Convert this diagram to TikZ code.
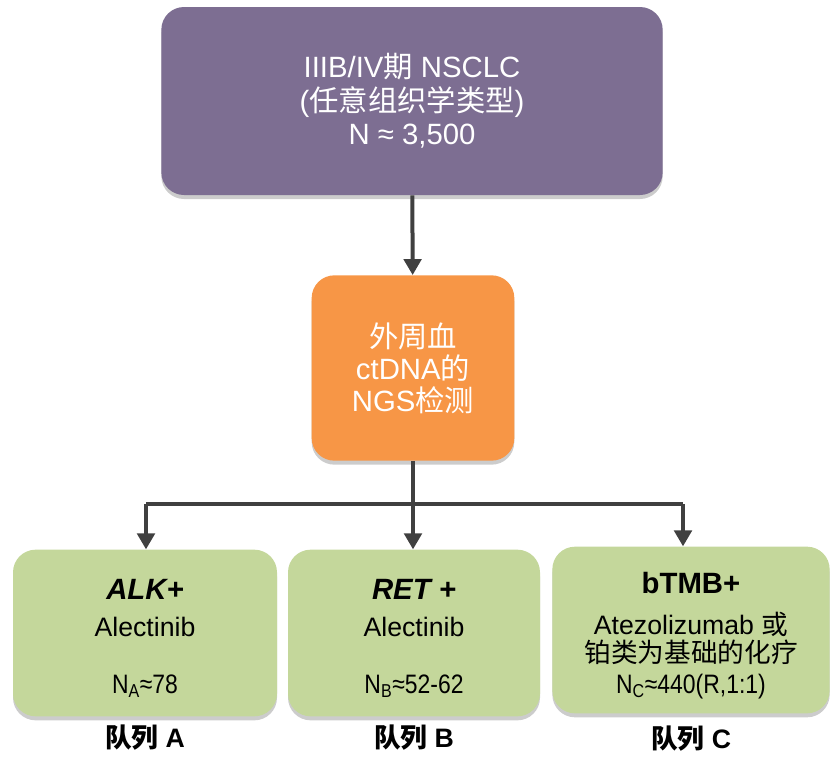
\documentclass[tikz,border=0pt]{standalone}
\usepackage{fontspec}
\setmainfont{Liberation Sans}
\newfontfamily\cjk{Noto Sans CJK SC}
\usetikzlibrary{arrows.meta, positioning, shadows}
\definecolor{stagecolor}{RGB}{125,110,146}
\definecolor{testcolor}{RGB}{247,150,70}
\definecolor{cohortcolor}{RGB}{196,215,155}
\definecolor{linkcolor}{RGB}{64,64,64}
\newcommand{\nline}[1]{\scalebox{0.86}[1]{#1}}

\begin{document}
\begin{tikzpicture}[
    x=0.75pt, y=-0.75pt,
    box/.style={rectangle, rounded corners=17pt, align=center, drop shadow={shadow xshift=0pt, shadow yshift=-3pt, fill=black, opacity=0.2}},
    stage/.style={box, fill=stagecolor, text=white, minimum width=376pt, minimum height=141pt, font=\fontsize{22}{25}\selectfont},
    test/.style={box, fill=testcolor, text=white, minimum width=152pt, minimum height=139pt, font=\fontsize{22}{24}\selectfont},
    cohort/.style={box, fill=cohortcolor, minimum height=125pt},
    cohorttext/.style={align=center, yshift=-4pt, font=\fontsize{20}{22}\selectfont},
    tag/.style={font=\bfseries\fontsize{20}{22}\selectfont},
    link/.style={draw=linkcolor, line width=3pt},
    arrow/.style={link, -{Triangle[length=12pt,width=13pt]}}
]
\useasboundingbox (0,0) rectangle (831,771);

\node[stage] (nsclc) at (412,101) {IIIB/IV{\cjk 期} NSCLC\\({\cjk 任意组织学类型})\\N ≈ 3,500};
\node[test] (ngs) at (413,368) {{\cjk 外周血}\\ctDNA{\cjk 的}\\NGS{\cjk 检测}};

% cohorts
\node[cohort, minimum width=198pt] (alk) at (145,633) {};
\node[cohort, minimum width=189pt] (ret) at (414,633) {};
\node[cohort, minimum width=208pt] (tmb) at (691,630) {};

\node[cohorttext] (alktext) at (alk) {{\bfseries\itshape\fontsize{22}{24}\selectfont ALK+}\\[6pt] Alectinib\\[21pt] \nline{N\textsubscript{A}≈78}};
\node[cohorttext] (rettext) at (ret) {{\bfseries\itshape\fontsize{22}{24}\selectfont RET +}\\[6pt] Alectinib\\[21pt] \nline{N\textsubscript{B}≈52-62}};
\node[cohorttext] (tmbtext) at (tmb) {{\bfseries\fontsize{22}{24}\selectfont bTMB+}\\[9pt] Atezolizumab {\cjk 或}\\[-1pt]{\cjk 铂类为基础的化疗}\\[1pt] \nline{N\textsubscript{C}≈440(R,1:1)}};

\node[tag, below=3pt of alk] (cohA) {{\cjk 队列} A};
\node[tag, below=3pt of ret] (cohB) {{\cjk 队列} B};
\node[tag, below=6pt of tmb] (cohC) {{\cjk 队列} C};

\coordinate (split) at (413,504);
\coordinate (splitA) at (146,504);
\coordinate (splitC) at (683,504);

\draw[arrow] (nsclc) -- (ngs);
\draw[link] (ngs.south) -- (split);
\draw[link] (splitA) -- (splitC);
\draw[arrow] (splitA) -- (splitA |- alk.north);
\draw[arrow] (split) -- (split |- ret.north);
\draw[arrow] (splitC) -- (splitC |- tmb.north);

\end{tikzpicture}
\end{document}
